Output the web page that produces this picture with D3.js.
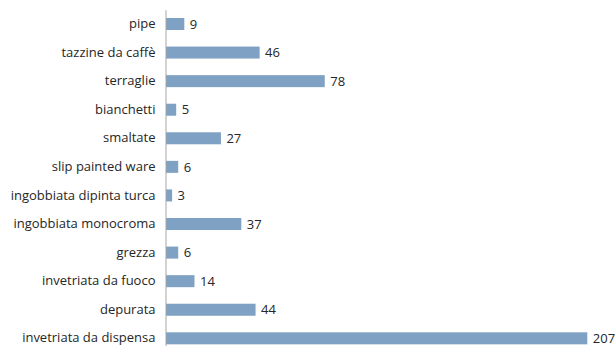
<!DOCTYPE html>
<html><head><meta charset="utf-8">
<script src="https://cdn.jsdelivr.net/npm/d3@7"></script>
<style>body{margin:0;background:#fff}svg{display:block}</style>
</head><body>
<svg id="c" width="616" height="346"></svg>
<script>
const categories = ["pipe","tazzine da caffè","terraglie","bianchetti","smaltate","slip painted ware","ingobbiata dipinta turca","ingobbiata monocroma","grezza","invetriata da fuoco","depurata ","invetriata da dispensa"];
const values = [9,46,78,5,27,6,3,37,6,14,44,207];

const svg = d3.select("#c");
const font = "'Open Sans', 'Liberation Sans', sans-serif";
const x = d3.scaleLinear().domain([0,207]).range([166,587.3]);
const y = d3.scaleBand().domain(categories).range([9.7,352.6]).paddingInner(0.58).paddingOuter(0.29);

svg.selectAll("rect.bar").data(categories).enter().append("rect")
  .attr("class","bar")
  .attr("x", x(0))
  .attr("y", d=>y(d))
  .attr("width", (d,i)=>x(values[i])-x(0))
  .attr("height", y.bandwidth())
  .attr("fill","#7fa1c3");

const ax = svg.append("g").attr("transform","translate(165.5,0)")
  .call(d3.axisLeft(y).tickSize(0).tickPadding(10));
ax.select(".domain").attr("stroke","#a6a6a6").attr("stroke-width",1);
ax.selectAll("text").attr("font-family",font).attr("font-size","13px").attr("fill","#262626");

svg.selectAll("text.val").data(categories).enter().append("text")
  .attr("class","val")
  .attr("x",(d,i)=>x(values[i])+5.5)
  .attr("y",d=>y(d)+y.bandwidth()/2)
  .attr("dy","0.36em")
  .attr("font-family",font).attr("font-size","13px").attr("fill","#262626")
  .text((d,i)=>values[i]);
</script>
</body></html>
